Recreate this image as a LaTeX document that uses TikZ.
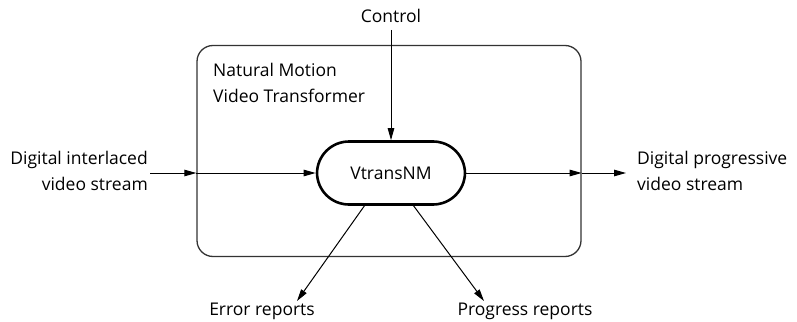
\documentclass[tikz,border=0pt]{standalone}
\usepackage{fontspec}
\setmainfont{Open Sans}
\usetikzlibrary{arrows.meta,positioning}
\begin{document}
\begin{tikzpicture}[x=1pt,y=-1pt,
  font=\fontsize{17.5}{26}\selectfont,
  flow/.style={-{Triangle[length=12pt,width=6.5pt]},line width=1pt},
  frame/.style={draw=black!80,line width=1.3pt,rounded corners=16pt},
  core/.style={draw,line width=2.6pt,rounded corners=32pt,minimum width=148pt,minimum height=63pt},
  lbl/.style={inner sep=0pt,align=left}]
\useasboundingbox (0,0) rectangle (797,321);
% enclosing component frame
\node[frame,minimum width=384pt,minimum height=211pt,inner sep=0pt] (box) at (389,151) {};
\node[lbl,anchor=north west] (title) at (213,63) {Natural Motion\\Video Transformer};
% central process
\node[core] (vt) at (391,173) {VtransNM};
% external labels
\node[lbl] (ctrl) at (391,16) {Control};
\node[lbl,align=right,anchor=east] (din) at (148,171) {Digital interlaced\\video stream};
\node[lbl,anchor=west] (dout) at (637,171) {Digital progressive\\video stream};
\node[lbl,anchor=base] (err) at (262,315.5) {Error reports};
\node[lbl,anchor=base] (prog) at (525,315.5) {Progress reports};
% boundary crossing points
\coordinate (ctop) at (391,30);
\coordinate (inA) at (150,173);
\coordinate (inB) at (box.west |- vt.west);
\coordinate (outB) at (box.east |- vt.east);
\coordinate (outC) at (626,173);
\coordinate (eA) at (365,205);
\coordinate (eB) at (297,301);
\coordinate (pA) at (413,205);
\coordinate (pB) at (484,301);
% connectors
\draw[flow] (ctop) -- (vt.north);
\draw[flow] (inA) -- (inB);
\draw[flow] (inB) -- (vt.west);
\draw[flow] (vt.east) -- (outB);
\draw[flow] (outB) -- (outC);
\draw[flow] (eA) -- (eB);
\draw[flow] (pA) -- (pB);
\end{tikzpicture}
\end{document}
